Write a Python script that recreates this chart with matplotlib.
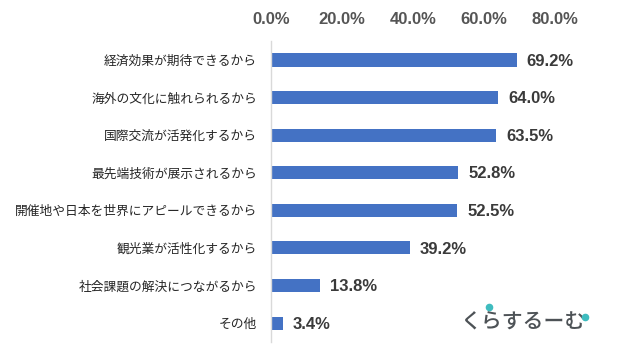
import matplotlib
matplotlib.use("Agg")
import matplotlib.pyplot as plt
from matplotlib.ticker import FuncFormatter

categories = [
    "経済効果が期待できるから",
    "海外の文化に触れられるから",
    "国際交流が活発化するから",
    "最先端技術が展示されるから",
    "開催地や日本を世界にアピールできるから",
    "観光業が活性化するから",
    "社会課題の解決につながるから",
    "その他",
]
values = [69.2, 64.0, 63.5, 52.8, 52.5, 39.2, 13.8, 3.4]
xticks = [0, 20, 40, 60, 80]

JP = ["Noto Sans CJK JP", "DejaVu Sans"]

fig = plt.figure(figsize=(6.17, 3.58), dpi=100)
ax = fig.add_axes([0.439, 0.045, 0.4605, 0.84])

y = list(range(len(categories)))
ax.barh(y, values, height=0.35, color="#4472c4")
ax.set_ylim(len(categories) - 0.5, -0.5)
ax.set_xlim(0, 80)

ax.set_yticks(y)
ax.set_yticklabels(categories, family=JP, fontsize=9.2, color="#262626")
ax.tick_params(axis="y", length=0, pad=10)

ax.set_xticks(xticks)
ax.xaxis.set_major_formatter(FuncFormatter(lambda v, p: f"{v:.1f}%"))
ax.xaxis.tick_top()
ax.tick_params(axis="x", length=0, pad=10, labelsize=12, labelcolor="#555555")
for lab in ax.get_xticklabels():
    lab.set_family("Liberation Sans")
    lab.set_fontweight("bold")

for s in ["top", "right", "bottom"]:
    ax.spines[s].set_visible(False)
ax.spines["left"].set_color("#d9d9d9")
ax.spines["left"].set_linewidth(1.0)

for yi, v in zip(y, values):
    ax.text(v + 2.8, yi + 0.03, f"{v:.1f}%", va="center", ha="left",
            family="Liberation Sans", fontweight="bold", fontsize=12,
            color="#3a3a3a", clip_on=False)

# logo
ax_logo = fig.add_axes([0, 0, 1, 1], facecolor="none")
ax_logo.set_xlim(0, 617)
ax_logo.set_ylim(358, 0)
ax_logo.axis("off")
ax_logo.text(461, 322, "くらするーむ", family=JP, fontsize=15, fontweight="medium",
             color="#4d5256", ha="left", va="center")
ax_logo.scatter([489, 584.5], [307, 316.5], s=20, color="#3fbcbf", zorder=5)

fig.savefig("out.png", dpi=100)
